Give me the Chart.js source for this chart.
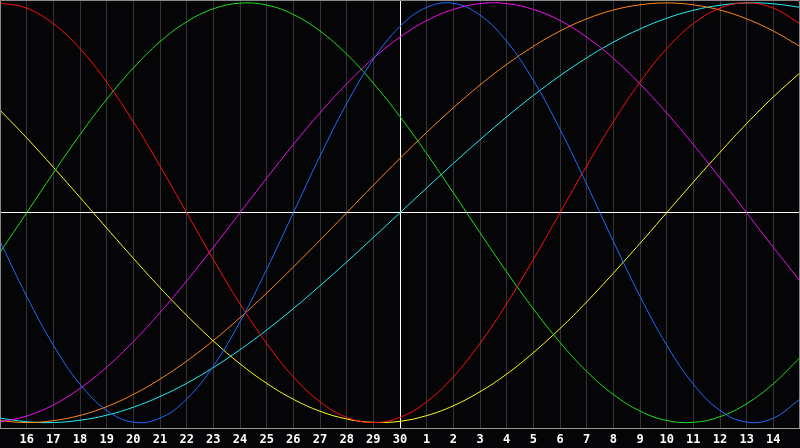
<!DOCTYPE html>
<html>
<head>
<meta charset="utf-8">
<script src="https://cdn.jsdelivr.net/npm/chart.js@4/dist/chart.umd.min.js"></script>
<style>
  html, body { margin: 0; padding: 0; background: #050407; }
  #wrap { width: 800px; height: 448px; }
</style>
</head>
<body>
<div id="wrap"><canvas id="bio" width="800" height="448"></canvas></div>
<script>
// days shown: 15th .. 30th, then 1st .. 15th of next month
const dayLabels = ['15','16','17','18','19','20','21','22','23','24','25','26','27','28','29','30',
  '1','2','3','4','5','6','7','8','9','10','11','12','13','14','15'];

// cycle values, one per day (-1 .. 1)
const physical = [-0.136,-0.398,-0.631,-0.817,-0.942,-0.998,-0.979,-0.888,-0.731,-0.520,-0.270,0.000,0.270,0.520,0.731,0.888,
  0.979,0.998,0.942,0.817,0.631,0.398,0.136,-0.136,-0.398,-0.631,-0.817,-0.942,-0.998,-0.979,-0.888];
const emotional = [1.000,0.975,0.901,0.782,0.623,0.434,0.223,0.000,-0.223,-0.434,-0.623,-0.782,-0.901,-0.975,-1.000,-0.975,
  -0.901,-0.782,-0.623,-0.434,-0.223,0.000,0.223,0.434,0.623,0.782,0.901,0.975,1.000,0.975,0.901];
const intellectual = [-0.189,0.000,0.189,0.372,0.541,0.690,0.815,0.910,0.972,0.999,0.990,0.945,0.866,0.756,0.618,0.458,
  0.282,0.095,-0.095,-0.282,-0.458,-0.618,-0.756,-0.866,-0.945,-0.990,-0.999,-0.972,-0.910,-0.815,-0.690];
const intuitive = [-0.997,-0.969,-0.916,-0.837,-0.736,-0.614,-0.476,-0.325,-0.165,0.000,0.165,0.325,0.476,0.614,0.736,0.837,
  0.916,0.969,0.997,0.997,0.969,0.916,0.837,0.736,0.614,0.476,0.325,0.165,0.000,-0.165,-0.325];
const aesthetic = [0.489,0.357,0.217,0.073,-0.073,-0.217,-0.357,-0.489,-0.611,-0.720,-0.813,-0.889,-0.946,-0.983,-0.999,-0.994,
  -0.967,-0.920,-0.853,-0.769,-0.667,-0.552,-0.425,-0.288,-0.146,0.000,0.146,0.288,0.425,0.552,0.667];
const awareness = [-0.991,-1.000,-0.991,-0.966,-0.924,-0.866,-0.793,-0.707,-0.609,-0.500,-0.383,-0.259,-0.131,0.000,0.131,0.259,
  0.383,0.500,0.609,0.707,0.793,0.866,0.924,0.966,0.991,1.000,0.991,0.966,0.924,0.866,0.793];
const spiritual = [-0.979,-0.996,-1.000,-0.989,-0.965,-0.927,-0.876,-0.813,-0.738,-0.653,-0.559,-0.457,-0.348,-0.235,-0.118,0.000,
  0.118,0.235,0.348,0.457,0.559,0.653,0.738,0.813,0.876,0.927,0.965,0.989,1.000,0.996,0.979];

const todayIndex = 15;

function line(label, data, color) {
  return { label, data, borderColor: color, borderWidth: 1, pointRadius: 0, tension: 0.4, fill: false };
}

// thin grey frame around the plot
const frame = {
  id: 'frame',
  afterDraw(chart) {
    const a = chart.chartArea, c = chart.ctx;
    c.save();
    c.strokeStyle = '#8a8a8a';
    c.lineWidth = 1;
    c.beginPath();
    c.moveTo(0.5, a.bottom);
    c.lineTo(0.5, 0.5);
    c.lineTo(799.5, 0.5);
    c.lineTo(799.5, a.bottom);
    c.stroke();
    c.restore();
  }
};

new Chart(document.getElementById('bio'), {
  type: 'line',
  data: {
    labels: dayLabels,
    datasets: [
      line('Physical', physical, '#1e6cff'),
      line('Emotional', emotional, '#ff1010'),
      line('Intellectual', intellectual, '#20e020'),
      line('Intuitive', intuitive, '#f010f0'),
      line('Aesthetic', aesthetic, '#ffff20'),
      line('Awareness', awareness, '#ff8a1a'),
      line('Spiritual', spiritual, '#20f0f0')
    ]
  },
  options: {
    responsive: false,
    animation: false,
    layout: { padding: 0, autoPadding: false },
    plugins: { legend: { display: false }, tooltip: { enabled: false } },
    scales: {
      x: {
        afterFit(scale) {
          scale.height = 20;
          scale.paddingLeft = 0;
          scale.paddingRight = 0;
        },
        border: { display: true, color: '#9a9a9a', width: 1 },
        grid: {
          drawTicks: false,
          color: (c) => c.index === todayIndex ? '#ffffff' : '#333333'
        },
        ticks: {
          autoSkip: false,
          maxRotation: 0,
          padding: 5,
          color: '#ffffff',
          font: { family: '"DejaVu Sans Mono", monospace', weight: 'bold', size: 12 },
          callback: (v, i) => (i === 0 || i === dayLabels.length - 1) ? '' : dayLabels[i]
        }
      },
      y: {
        min: -1.026,
        max: 1.014,
        afterFit(scale) { scale.width = 0; },
        afterBuildTicks(scale) { scale.ticks = [{ value: 0 }]; },
        border: { display: false },
        grid: { drawTicks: false, color: '#ffffff' },
        ticks: { display: false }
      }
    }
  },
  plugins: [frame]
});
</script>
</body>
</html>
